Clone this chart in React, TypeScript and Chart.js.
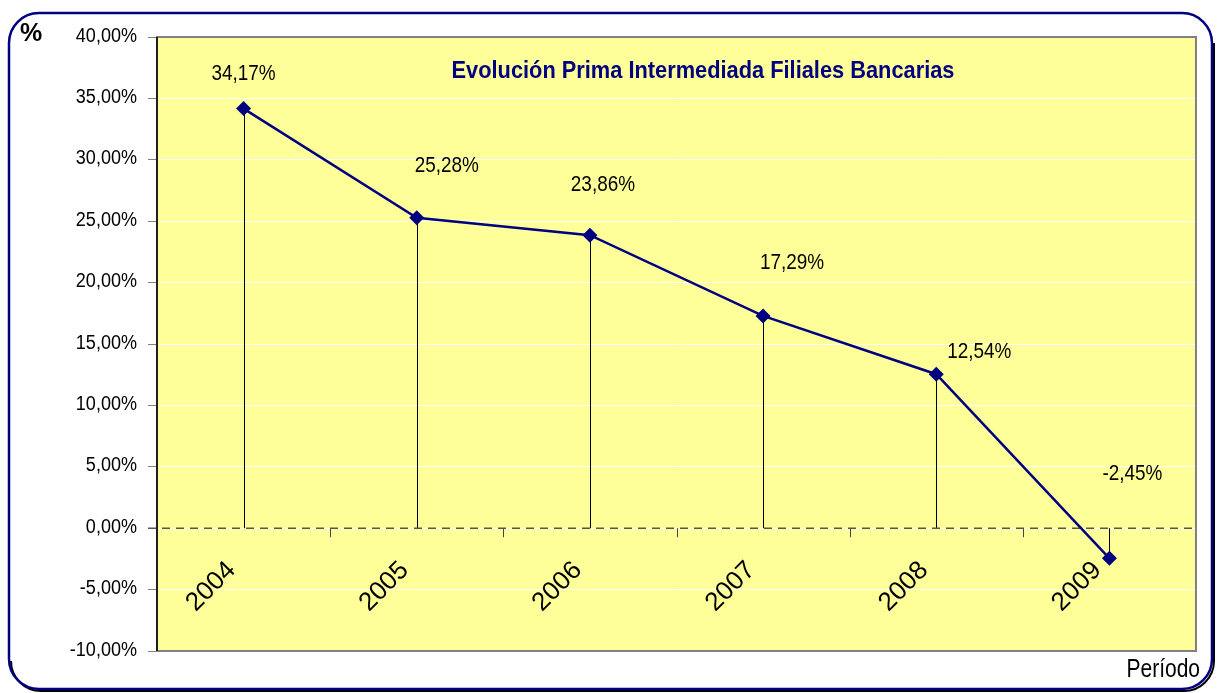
import React, { useEffect, useRef } from "react";
import { Chart, registerables } from "chart.js";

Chart.register(...registerables);

const categories = ["2004", "2005", "2006", "2007", "2008", "2009"];
const values = [34.17, 25.28, 23.86, 17.29, 12.54, -2.45];
const yTicks = [-10, -5, 0, 5, 10, 15, 20, 25, 30, 35, 40];
const chartTitle = "Evolución Prima Intermediada Filiales Bancarias";
const yAxisTitle = "%";
const xAxisTitle = "Período";

// label placement offsets (px) relative to each point – styling only
const labelOffsets: [number, number][] = [
  [0, -35],
  [30, -52],
  [13, -50],
  [29, -53],
  [43, -22],
  [23, -84],
];

const REG = "'Liberation Sans', Arial, sans-serif";
const NAVY = "#000080";

const fmt = (v: number) => v.toFixed(2).replace(".", ",") + "%";

function narrowText(
  ctx: CanvasRenderingContext2D,
  text: string,
  x: number,
  y: number,
  size: number,
  sx: number,
  align: CanvasTextAlign,
  bold = false,
  baseline: CanvasTextBaseline = "middle"
) {
  ctx.save();
  ctx.font = `${bold ? "bold " : ""}${size}px ${REG}`;
  ctx.textAlign = align;
  ctx.textBaseline = baseline;
  ctx.translate(x, y);
  ctx.scale(sx, 1);
  ctx.fillText(text, 0, 0);
  ctx.restore();
}

const decoPlugin = {
  id: "deco",
  beforeDraw(chart: any) {
    const { ctx, chartArea: a } = chart;
    ctx.save();
    ctx.fillStyle = "#FFFF99";
    ctx.fillRect(a.left, a.top, a.right - a.left, a.bottom - a.top);
    ctx.restore();
  },
  beforeDatasetsDraw(chart: any) {
    const { ctx, chartArea: a } = chart;
    const xs = chart.scales.x;
    const ys = chart.scales.y;
    const y0 = ys.getPixelForValue(0);
    ctx.save();
    // drop lines
    ctx.strokeStyle = "#000";
    ctx.lineWidth = 1;
    values.forEach((v, i) => {
      const px = Math.round(xs.getPixelForValue(i)) + 0.5;
      ctx.beginPath();
      ctx.moveTo(px, ys.getPixelForValue(v));
      ctx.lineTo(px, y0);
      ctx.stroke();
    });
    // category tick marks on zero line
    ctx.strokeStyle = "#444";
    const n = categories.length;
    for (let i = 1; i <= n; i++) {
      const px = Math.round(a.left + (i * (a.right - a.left)) / n) + 0.5;
      ctx.beginPath();
      ctx.moveTo(px, y0);
      ctx.lineTo(px, y0 + 9);
      ctx.stroke();
    }
    // dashed zero line
    ctx.setLineDash([8, 6]);
    ctx.strokeStyle = "#555";
    ctx.lineWidth = 1.5;
    ctx.beginPath();
    ctx.moveTo(a.left - 9, y0);
    ctx.lineTo(a.right, y0);
    ctx.stroke();
    ctx.setLineDash([]);
    // category labels
    ctx.fillStyle = "#000";
    ctx.font = `26px ${REG}`;
    ctx.textAlign = "right";
    ctx.textBaseline = "middle";
    categories.forEach((c, i) => {
      const px = xs.getPixelForValue(i);
      ctx.save();
      ctx.translate(px - 12, y0 + 38);
      ctx.rotate(-Math.PI / 4);
      ctx.fillText(c, 0, 0);
      ctx.restore();
    });
    ctx.restore();
  },
  afterDatasetsDraw(chart: any) {
    const { ctx, chartArea: a } = chart;
    const xs = chart.scales.x;
    const ys = chart.scales.y;
    ctx.save();
    ctx.fillStyle = "#000";
    // y tick labels
    yTicks.forEach((t) => {
      narrowText(ctx, fmt(t), a.left - 20, ys.getPixelForValue(t) - 1, 20.5, 0.88, "right");
    });
    // data labels
    values.forEach((v, i) => {
      const px = xs.getPixelForValue(i);
      const py = ys.getPixelForValue(v);
      narrowText(ctx, fmt(v), px + labelOffsets[i][0], py + labelOffsets[i][1], 22, 0.86, "center");
    });
    // plot border
    ctx.strokeStyle = "#808080";
    ctx.lineWidth = 2;
    ctx.strokeRect(a.left, a.top, a.right - a.left, a.bottom - a.top);
    ctx.strokeStyle = "#000";
    ctx.lineWidth = 1.5;
    ctx.beginPath();
    ctx.moveTo(a.left, a.top);
    ctx.lineTo(a.left, a.bottom);
    ctx.stroke();
    // title (fit to reference width)
    ctx.fillStyle = NAVY;
    ctx.font = `bold 24px ${REG}`;
    const tw = ctx.measureText(chartTitle).width;
    narrowText(ctx, chartTitle, 703, 71, 24, 503 / tw, "center", true);
    ctx.restore();
  },
  afterDraw(chart: any) {
    const { ctx } = chart;
    ctx.save();
    const x = 9, y = 13, w = 1203, h = 676, r = 30;
    // shadow along bottom / right
    ctx.strokeStyle = "#000";
    ctx.lineWidth = 2;
    ctx.beginPath();
    ctx.moveTo(x + w + 2, y + r);
    ctx.lineTo(x + w + 2, y + h - r + 2);
    ctx.arcTo(x + w + 2, y + h + 2, x + w - r + 2, y + h + 2, r);
    ctx.lineTo(x + r, y + h + 2);
    ctx.arcTo(x + 2, y + h + 2, x + 2, y + h - r, r);
    ctx.stroke();
    // frame
    ctx.strokeStyle = NAVY;
    ctx.lineWidth = 2.5;
    ctx.beginPath();
    ctx.moveTo(x + r, y);
    ctx.lineTo(x + w - r, y);
    ctx.arcTo(x + w, y, x + w, y + r, r);
    ctx.lineTo(x + w, y + h - r);
    ctx.arcTo(x + w, y + h, x + w - r, y + h, r);
    ctx.lineTo(x + r, y + h);
    ctx.arcTo(x, y + h, x, y + h - r, r);
    ctx.lineTo(x, y + r);
    ctx.arcTo(x, y, x + r, y, r);
    ctx.closePath();
    ctx.stroke();
    // axis titles
    ctx.fillStyle = "#000";
    ctx.font = `bold 25px ${REG}`;
    ctx.textAlign = "center";
    ctx.textBaseline = "middle";
    ctx.fillText(yAxisTitle, 31, 34);
    narrowText(ctx, xAxisTitle, 1200, 677, 25, 0.84, "right", false, "alphabetic");
    ctx.restore();
  },
};

export default function App() {
  const ref = useRef<HTMLCanvasElement | null>(null);
  useEffect(() => {
    document.body.style.margin = "0";
    const canvas = ref.current!;
    const chart = new Chart(canvas, {
      type: "line",
      data: {
        labels: categories,
        datasets: [
          {
            data: values,
            borderColor: NAVY,
            backgroundColor: NAVY,
            borderWidth: 2.5,
            pointStyle: "rectRot",
            pointRadius: 7.5,
            pointBackgroundColor: NAVY,
            pointBorderColor: NAVY,
            pointBorderWidth: 0,
            tension: 0,
          },
        ],
      },
      options: {
        animation: false,
        responsive: false,
        layout: { padding: { left: 0, top: 37, right: 21, bottom: 42 } },
        plugins: { legend: { display: false }, title: { display: false }, tooltip: { enabled: false } },
        scales: {
          x: { type: "category", offset: true, display: false },
          y: {
            min: yTicks[0],
            max: yTicks[yTicks.length - 1],
            afterBuildTicks: (s: any) => {
              s.ticks = yTicks.map((v) => ({ value: v }));
            },
            afterFit: (s: any) => {
              s.width = 157;
            },
            grid: { color: "#FFFFFF", lineWidth: 1, tickLength: 9, tickColor: "#808080", drawTicks: true },
            border: { display: false },
            ticks: { display: false },
          },
        },
      },
      plugins: [decoPlugin],
    });
    return () => chart.destroy();
  }, []);
  return <canvas ref={ref} width={1217} height={693} style={{ display: "block" }} />;
}
